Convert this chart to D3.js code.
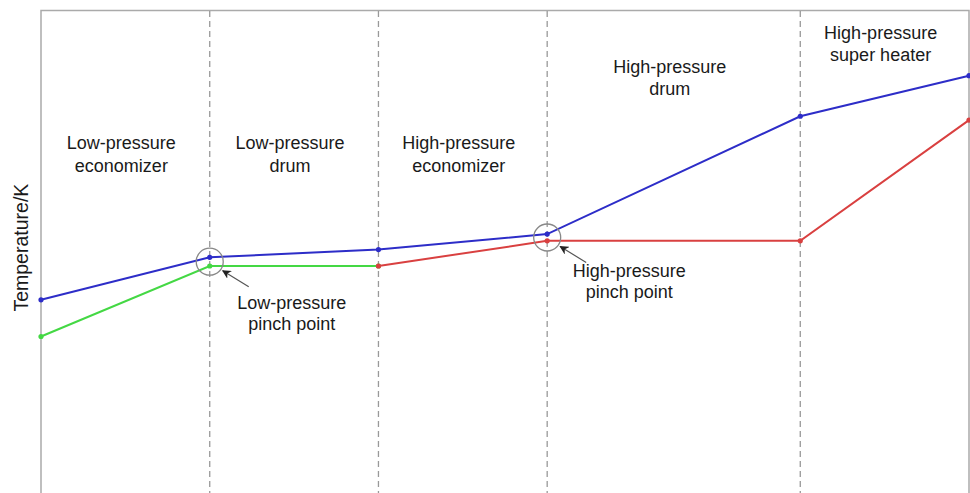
<!DOCTYPE html>
<html lang="en">
  <head>
    <meta charset="UTF-8" />
    <title>Temperature profile</title>
    <style>
      body { margin: 0; background: #fff; }
      svg text { font-family: "Liberation Sans", Arial, sans-serif; fill: #1a1a1a; }
    </style>
  </head>
  <body>
    <svg id="chart" width="970" height="493"></svg>

    <script src="https://d3js.org/d3.v7.min.js"></script>
    <script>
      // section boundaries along the heat-transfer axis
      const boundaries = [0, 1, 2, 3, 4.5, 5.5];

      // gas side (blue) and water/steam sides (green = low pressure, red = high pressure)
      const gasX = [0, 1, 2, 3, 4.5, 5.5];
      const gasT = [550, 594, 602, 618, 740, 782];
      const lpX = [0, 1, 2];
      const lpT = [512, 585, 585];
      const hpX = [2, 3, 4.5, 5.5];
      const hpT = [585, 611, 611, 736];

      const sectionNames = [
        ["Low-pressure", "economizer"],
        ["Low-pressure", "drum"],
        ["High-pressure", "economizer"],
        ["High-pressure", "drum"],
        ["High-pressure", "super heater"]
      ];
      const sectionLabelT = [706, 706, 706, 785, 820];

      const pinchX = [1, 3];
      const pinchNames = [
        ["Low-pressure", "pinch point"],
        ["High-pressure", "pinch point"]
      ];

      const W = 970, H = 493;
      const svg = d3.select("#chart");

      const x = d3.scaleLinear().domain([0, 5.5]).range([41, 969]);
      const y = d3.scaleLinear().domain([350, 850]).range([493, 10]);

      // frame
      svg.append("path")
        .attr("d", `M${x(0)},${H} V10.5 H${x(5.5)} V${H}`)
        .attr("fill", "none")
        .attr("stroke", "#aaa")
        .attr("stroke-width", 1.5);

      // dashed section dividers
      svg.selectAll("line.div")
        .data(boundaries.slice(1, -1))
        .enter()
        .append("line")
        .attr("class", "div")
        .attr("x1", d => x(d))
        .attr("x2", d => x(d))
        .attr("y1", 11)
        .attr("y2", H)
        .attr("stroke", "#999")
        .attr("stroke-width", 1.3)
        .attr("stroke-dasharray", "6,4");

      // section titles (sit a little left of centre, as in the original)
      const mids = boundaries.slice(0, -1).map((b, i) => (b + boundaries[i + 1]) / 2);
      sectionNames.forEach((lines, i) => {
        const tx = x(mids[i]) - 4;
        const t = svg.append("text")
          .attr("x", tx)
          .attr("y", y(sectionLabelT[i]))
          .attr("text-anchor", "middle")
          .style("font-size", "18px");
        lines.forEach((s, j) => {
          t.append("tspan").attr("x", tx).attr("dy", j ? 22.5 : 0).text(s);
        });
      });

      // y-axis title
      svg.append("text")
        .attr("transform", `translate(28,${y(604)}) rotate(-90)`)
        .attr("text-anchor", "middle")
        .style("font-size", "19.5px")
        .text("Temperature/K");

      const series = [
        { xs: lpX, ts: lpT, color: "#44d844" },
        { xs: hpX, ts: hpT, color: "#d94040" },
        { xs: gasX, ts: gasT, color: "#2d2dc8" }
      ];
      const line = d3.line().x(d => x(d[0])).y(d => y(d[1]));

      series.forEach(s => {
        const pts = s.xs.map((v, i) => [v, s.ts[i]]);
        svg.append("path")
          .datum(pts)
          .attr("d", line)
          .attr("fill", "none")
          .attr("stroke", s.color)
          .attr("stroke-width", 2);
        svg.selectAll(null)
          .data(pts)
          .enter()
          .append("circle")
          .attr("cx", d => x(d[0]))
          .attr("cy", d => y(d[1]))
          .attr("r", 2.6)
          .attr("fill", s.color);
      });

      // arrow marker
      svg.append("defs").append("marker")
        .attr("id", "arr")
        .attr("viewBox", "0 0 10 10")
        .attr("refX", 9)
        .attr("refY", 5)
        .attr("markerWidth", 9)
        .attr("markerHeight", 9)
        .attr("markerUnits", "userSpaceOnUse")
        .attr("orient", "auto")
        .append("path")
        .attr("d", "M0,0 L10,5 L0,10 L3,5 Z")
        .attr("fill", "#222");

      // pinch point circles, arrows and labels
      const pinchLow = [lpT[1], hpT[1]];
      pinchX.forEach((px, i) => {
        const tLow = pinchLow[i];
        const tHigh = gasT[gasX.indexOf(px)];
        const cx = x(px), cy = (y(tLow) + y(tHigh)) / 2;
        svg.append("circle")
          .attr("cx", cx).attr("cy", cy).attr("r", 13.5)
          .attr("fill", "none")
          .attr("stroke", "#888")
          .attr("stroke-width", 1.3);
        svg.append("line")
          .attr("x1", cx + 39).attr("y1", cy + 25)
          .attr("x2", cx + 13).attr("y2", cy + 9)
          .attr("stroke", "#555")
          .attr("stroke-width", 1.2)
          .attr("marker-end", "url(#arr)");
        const lx = cx + 82, ly = cy + 47 - (i ? 7 : 0);
        const t = svg.append("text")
          .attr("x", lx).attr("y", ly)
          .attr("text-anchor", "middle")
          .style("font-size", "18px");
        pinchNames[i].forEach((s, j) => {
          t.append("tspan").attr("x", lx).attr("dy", j ? 21 : 0).text(s);
        });
      });
    </script>
  </body>
</html>
